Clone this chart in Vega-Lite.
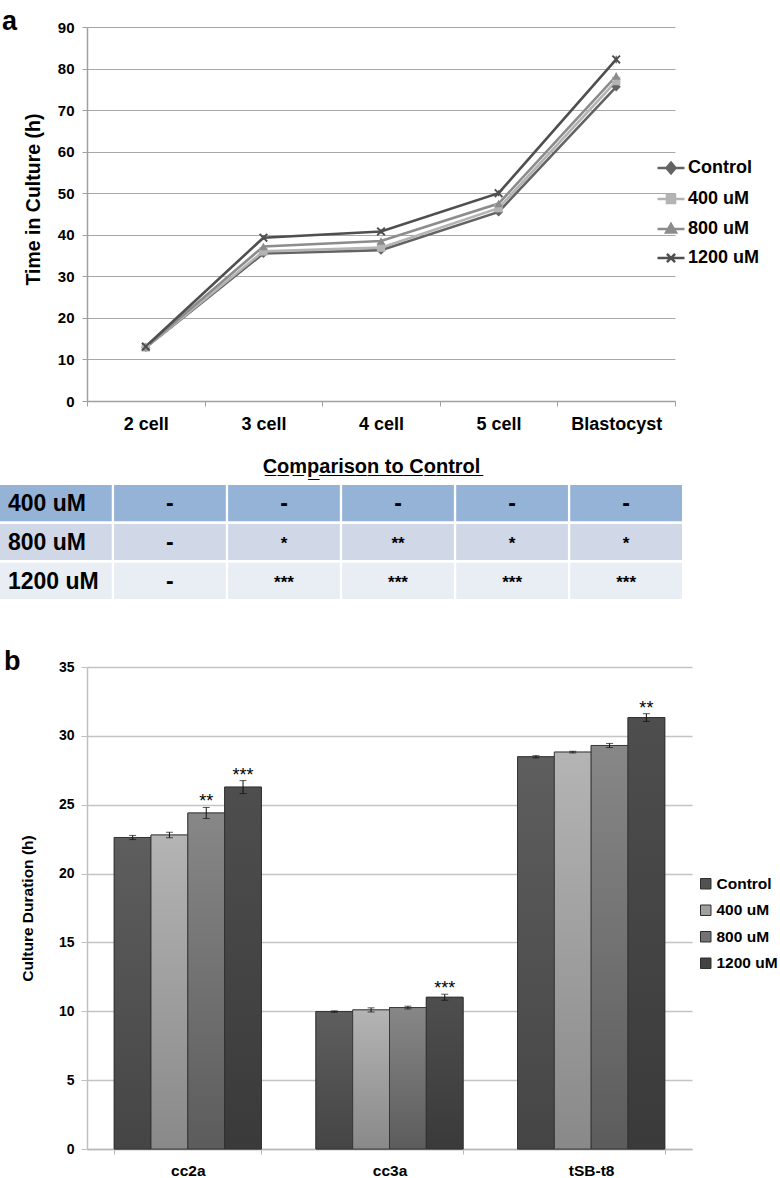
{
  "$schema": "https://vega.github.io/schema/vega-lite/v6.json",
  "background": "white",
  "padding": {"left": 0, "top": 8, "right": 0, "bottom": 0},
  "config": {
    "view": {"stroke": null},
    "font": "Liberation Sans",
    "axis": {
      "labelFont": "Liberation Sans",
      "titleFont": "Liberation Sans",
      "labelColor": "#000000",
      "titleColor": "#000000",
      "labelFontWeight": "bold",
      "titleFontWeight": "bold",
      "domainColor": "#a0a0a0",
      "tickColor": "#a0a0a0",
      "gridColor": "#a8a8a8"
    },
    "legend": {"labelFont": "Liberation Sans", "labelColor": "#000000"}
  },
  "resolve": {"scale": {"color": "independent", "fill": "independent", "shape": "independent"}, "legend": {"color": "independent", "fill": "independent", "shape": "independent"}},
  "datasets": {
    "timeline": [
      {"stage": "2 cell", "group": "Control", "time": 12.9, "lo": 12.6, "hi": 13.2},
      {"stage": "2 cell", "group": "400 uM", "time": 12.9, "lo": 12.6, "hi": 13.2},
      {"stage": "2 cell", "group": "800 uM", "time": 13.0, "lo": 12.7, "hi": 13.3},
      {"stage": "2 cell", "group": "1200 uM", "time": 13.1, "lo": 12.7, "hi": 13.5},
      {"stage": "3 cell", "group": "Control", "time": 35.5, "lo": 35.1, "hi": 35.9},
      {"stage": "3 cell", "group": "400 uM", "time": 36.0, "lo": 35.6, "hi": 36.4},
      {"stage": "3 cell", "group": "800 uM", "time": 37.2, "lo": 36.8, "hi": 37.6},
      {"stage": "3 cell", "group": "1200 uM", "time": 39.3, "lo": 38.8, "hi": 39.8},
      {"stage": "4 cell", "group": "Control", "time": 36.3, "lo": 35.8, "hi": 36.8},
      {"stage": "4 cell", "group": "400 uM", "time": 36.9, "lo": 36.4, "hi": 37.4},
      {"stage": "4 cell", "group": "800 uM", "time": 38.5, "lo": 38.0, "hi": 39.0},
      {"stage": "4 cell", "group": "1200 uM", "time": 40.8, "lo": 40.2, "hi": 41.4},
      {"stage": "5 cell", "group": "Control", "time": 45.5, "lo": 44.9, "hi": 46.1},
      {"stage": "5 cell", "group": "400 uM", "time": 46.4, "lo": 45.8, "hi": 47.0},
      {"stage": "5 cell", "group": "800 uM", "time": 47.5, "lo": 46.9, "hi": 48.1},
      {"stage": "5 cell", "group": "1200 uM", "time": 50.0, "lo": 49.3, "hi": 50.7},
      {"stage": "Blastocyst", "group": "Control", "time": 75.6, "lo": 74.9, "hi": 76.3},
      {"stage": "Blastocyst", "group": "400 uM", "time": 77.0, "lo": 76.3, "hi": 77.7},
      {"stage": "Blastocyst", "group": "800 uM", "time": 78.2, "lo": 77.4, "hi": 79.0},
      {"stage": "Blastocyst", "group": "1200 uM", "time": 82.2, "lo": 81.3, "hi": 83.1}
    ],
    "table": [
      {"row": "400 uM", "col": "label", "text": "400 uM"},
      {"row": "400 uM", "col": "2 cell", "text": "-"},
      {"row": "400 uM", "col": "3 cell", "text": "-"},
      {"row": "400 uM", "col": "4 cell", "text": "-"},
      {"row": "400 uM", "col": "5 cell", "text": "-"},
      {"row": "400 uM", "col": "Blastocyst", "text": "-"},
      {"row": "800 uM", "col": "label", "text": "800 uM"},
      {"row": "800 uM", "col": "2 cell", "text": "-"},
      {"row": "800 uM", "col": "3 cell", "text": "*"},
      {"row": "800 uM", "col": "4 cell", "text": "**"},
      {"row": "800 uM", "col": "5 cell", "text": "*"},
      {"row": "800 uM", "col": "Blastocyst", "text": "*"},
      {"row": "1200 uM", "col": "label", "text": "1200 uM"},
      {"row": "1200 uM", "col": "2 cell", "text": "-"},
      {"row": "1200 uM", "col": "3 cell", "text": "***"},
      {"row": "1200 uM", "col": "4 cell", "text": "***"},
      {"row": "1200 uM", "col": "5 cell", "text": "***"},
      {"row": "1200 uM", "col": "Blastocyst", "text": "***"}
    ],
    "durations": [
      {"phase": "cc2a", "group": "Control", "dur": 22.62, "lo": 22.47, "hi": 22.77, "sig": ""},
      {"phase": "cc2a", "group": "400 uM", "dur": 22.8, "lo": 22.6, "hi": 23.0, "sig": ""},
      {"phase": "cc2a", "group": "800 uM", "dur": 24.4, "lo": 24.0, "hi": 24.8, "sig": "**"},
      {"phase": "cc2a", "group": "1200 uM", "dur": 26.28, "lo": 25.81, "hi": 26.75, "sig": "***"},
      {"phase": "cc3a", "group": "Control", "dur": 9.98, "lo": 9.93, "hi": 10.03, "sig": ""},
      {"phase": "cc3a", "group": "400 uM", "dur": 10.1, "lo": 9.95, "hi": 10.25, "sig": ""},
      {"phase": "cc3a", "group": "800 uM", "dur": 10.27, "lo": 10.17, "hi": 10.37, "sig": ""},
      {"phase": "cc3a", "group": "1200 uM", "dur": 11.02, "lo": 10.8, "hi": 11.24, "sig": "***"},
      {"phase": "tSB-t8", "group": "Control", "dur": 28.48, "lo": 28.4, "hi": 28.56, "sig": ""},
      {"phase": "tSB-t8", "group": "400 uM", "dur": 28.82, "lo": 28.76, "hi": 28.88, "sig": ""},
      {"phase": "tSB-t8", "group": "800 uM", "dur": 29.3, "lo": 29.15, "hi": 29.45, "sig": ""},
      {"phase": "tSB-t8", "group": "1200 uM", "dur": 31.33, "lo": 31.05, "hi": 31.61, "sig": "**"}
    ]
  },
  "spacing": 49,
  "vconcat": [
    {
      "spacing": 24,
      "resolve": {"scale": {"color": "independent", "fill": "independent", "shape": "independent"}, "legend": {"color": "independent", "fill": "independent", "shape": "independent"}},
      "vconcat": [
        {
          "width": 588,
          "height": 374,
          "title": {"text": "a", "anchor": "start", "frame": "group", "dx": -85, "fontSize": 27, "fontWeight": "bold", "font": "Liberation Sans", "baseline": "alphabetic", "offset": -37},
          "data": {"name": "timeline"},
          "encoding": {
            "x": {
              "field": "stage", "type": "nominal", "bandPosition": 0.5,
              "sort": ["2 cell", "3 cell", "4 cell", "5 cell", "Blastocyst"],
              "scale": {"type": "band", "paddingInner": 0, "paddingOuter": 0},
              "axis": {"title": null, "labelAngle": 0, "labelFontSize": 18, "labelPadding": 9, "tickBand": "extent", "tickSize": 5, "grid": false, "domainWidth": 1.5}
            },
            "color": {
              "field": "group", "type": "nominal",
              "sort": ["Control", "400 uM", "800 uM", "1200 uM"],
              "scale": {"domain": ["Control", "400 uM", "800 uM", "1200 uM"], "range": ["#636363", "#b4b4b4", "#8c8c8c", "#4f4f4f"]},
              "legend": {
                "orient": "none", "legendX": 575, "legendY": 132, "title": null,
                "labelFontSize": 18, "labelFontWeight": "bold", "padding": 0,
                "symbolSize": 81, "symbolStrokeWidth": 2.5, "rowPadding": 10, "labelOffset": 8,
                "encode": {
                  "symbols": {
                    "update": {
                      "shape": {"signal": "datum.value === 'Control' ? 'M-3,0H3M0,-1.2L1,0L0,1.2L-1,0Z' : datum.value === '400 uM' ? 'M-3,0H3M-0.9,-0.9H0.9V0.9H-0.9Z' : datum.value === '800 uM' ? 'M-3,0H3M0,-1.1L1.1,0.8H-1.1Z' : 'M-3,0H3M-0.9,-0.9L0.9,0.9M-0.9,0.9L0.9,-0.9'"},
                      "fill": {"scale": "color", "field": "value"},
                      "stroke": {"scale": "color", "field": "value"},
                      "strokeWidth": {"value": 2.5},
                      "opacity": {"value": 1}
                    }
                  }
                }
              }
            }
          },
          "layer": [
            {
              "mark": {"type": "line", "strokeWidth": 2.6},
              "encoding": {
                "y": {
                  "field": "time", "type": "quantitative",
                  "scale": {"domain": [0, 90], "nice": false},
                  "axis": {"title": "Time in Culture (h)", "titleFontSize": 19.5, "titlePadding": 14, "titleY": 172, "values": [0, 10, 20, 30, 40, 50, 60, 70, 80, 90], "labelFontSize": 15, "labelPadding": 8, "tickSize": 5, "grid": true, "domainWidth": 1.5, "gridWidth": 1.2}
                }
              }
            },
            {
              "mark": {"type": "rule", "strokeWidth": 1.2},
              "encoding": {"y": {"field": "lo", "type": "quantitative"}, "y2": {"field": "hi"}}
            },
            {
              "transform": [{"filter": "datum.group === 'Control'"}],
              "mark": {"type": "point", "filled": true, "opacity": 1, "size": 85, "shape": "diamond"},
              "encoding": {"y": {"field": "time", "type": "quantitative"}}
            },
            {
              "transform": [{"filter": "datum.group === '400 uM'"}],
              "mark": {"type": "point", "filled": true, "opacity": 1, "size": 70, "shape": "square"},
              "encoding": {"y": {"field": "time", "type": "quantitative"}}
            },
            {
              "transform": [{"filter": "datum.group === '800 uM'"}],
              "mark": {"type": "point", "filled": true, "opacity": 1, "size": 75, "shape": "triangle-up"},
              "encoding": {"y": {"field": "time", "type": "quantitative"}}
            },
            {
              "transform": [{"filter": "datum.group === '1200 uM'"}],
              "mark": {"type": "point", "filled": true, "opacity": 1, "size": 80, "shape": "M-1,-0.7L-0.7,-1L0,-0.3L0.7,-1L1,-0.7L0.3,0L1,0.7L0.7,1L0,0.3L-0.7,1L-1,0.7L-0.3,0Z"},
              "encoding": {"y": {"field": "time", "type": "quantitative"}}
            }
          ]
        },
        {
          "width": 595,
          "height": 114,
          "title": {"text": "C̲o̲m̲p̲a̲r̲i̲s̲o̲n̲ ̲t̲o̲ ̲C̲o̲n̲t̲r̲o̲l̲", "anchor": "middle", "frame": "group", "dx": -13, "fontSize": 20, "fontWeight": "bold", "font": "Liberation Sans", "offset": 8},
          "data": {"name": "table"},
          "encoding": {
            "x": {
              "field": "col", "type": "nominal",
              "sort": ["label", "2 cell", "3 cell", "4 cell", "5 cell", "Blastocyst"],
              "scale": {"type": "band", "range": [-87, 595], "paddingInner": 0.02, "paddingOuter": 0},
              "axis": null
            },
            "y": {
              "field": "row", "type": "nominal",
              "sort": ["400 uM", "800 uM", "1200 uM"],
              "scale": {"paddingInner": 0.07, "paddingOuter": 0},
              "axis": null
            }
          },
          "layer": [
            {
              "mark": {"type": "rect"},
              "encoding": {
                "fill": {
                  "field": "row", "type": "nominal", "legend": null,
                  "scale": {"domain": ["400 uM", "800 uM", "1200 uM"], "range": ["#95b3d7", "#d0d8e8", "#e9edf4"]}
                }
              }
            },
            {
              "transform": [{"filter": "datum.col === 'label'"}],
              "mark": {"type": "text", "align": "left", "baseline": "middle", "dx": 8, "dy": 1, "fontSize": 23, "fontWeight": "bold", "font": "Liberation Sans", "color": "#000000"},
              "encoding": {"x": {"field": "col", "type": "nominal", "sort": ["label", "2 cell", "3 cell", "4 cell", "5 cell", "Blastocyst"], "bandPosition": 0}, "text": {"field": "text"}}
            },
            {
              "transform": [{"filter": "datum.text === '-'"}],
              "mark": {"type": "text", "align": "center", "baseline": "middle", "dy": 1, "fontSize": 23, "fontWeight": "bold", "font": "Liberation Sans", "color": "#000000"},
              "encoding": {"text": {"field": "text"}}
            },
            {
              "transform": [{"filter": "datum.col !== 'label' && datum.text !== '-'"}],
              "mark": {"type": "text", "align": "center", "baseline": "middle", "dy": 2, "fontSize": 17, "fontWeight": "bold", "font": "Liberation Sans", "color": "#000000"},
              "encoding": {"text": {"field": "text"}}
            }
          ]
        }
      ]
    },
    {
      "width": 605,
      "height": 482,
      "title": {"text": "b", "anchor": "start", "frame": "group", "dx": -83, "fontSize": 27, "fontWeight": "bold", "font": "Liberation Sans", "baseline": "alphabetic", "offset": -37},
      "data": {"name": "durations"},
      "encoding": {
        "x": {
          "field": "phase", "type": "nominal",
          "sort": ["cc2a", "cc3a", "tSB-t8"],
          "scale": {"paddingInner": 0.27, "paddingOuter": 0.135},
          "axis": {"title": null, "labelAngle": 0, "labelFontSize": 15.5, "labelPadding": 9, "tickBand": "extent", "tickSize": 5, "grid": false, "domainWidth": 1.5, "domainColor": "#b8b8b8", "tickColor": "#b8b8b8"}
        },
        "xOffset": {"field": "group", "type": "nominal", "sort": ["Control", "400 uM", "800 uM", "1200 uM"], "scale": {"paddingInner": 0, "paddingOuter": 0}}
      },
      "layer": [
        {
          "mark": {"type": "bar", "stroke": "#2e2e2e", "strokeWidth": 0.8},
          "encoding": {
            "y": {
              "field": "dur", "type": "quantitative",
              "scale": {"domain": [0, 35], "nice": false},
              "axis": {"title": "Culture Duration (h)", "titleFontSize": 15.5, "titlePadding": 23, "values": [0, 5, 10, 15, 20, 25, 30, 35], "labelFontSize": 14, "labelPadding": 7, "tickSize": 6, "grid": true, "gridColor": "#c4c4c4", "gridWidth": 1.5, "domainWidth": 1.5, "domainColor": "#c0c0c0", "tickColor": "#c0c0c0"}
            },
            "fill": {
              "field": "group", "type": "nominal",
              "sort": ["Control", "400 uM", "800 uM", "1200 uM"],
              "scale": {"domain": ["Control", "400 uM", "800 uM", "1200 uM"], "range": ["#525252", "#a0a0a0", "#737373", "#434343"]},
              "legend": {"orient": "none", "legendX": 611, "legendY": 209, "title": null, "labelFontSize": 15.5, "labelFontWeight": "bold", "padding": 0, "symbolType": "square", "symbolSize": 110, "symbolStrokeColor": "#2e2e2e", "symbolStrokeWidth": 1, "rowPadding": 9.5, "labelOffset": 3}
            }
          }
        },
        {
          "transform": [{"filter": "datum.group === 'Control'"}],
          "mark": {"type": "bar", "stroke": "#2e2e2e", "strokeWidth": 0.8, "fill": {"gradient": "linear", "x1": 0, "y1": 0, "x2": 0, "y2": 1, "stops": [{"offset": 0, "color": "#5e5e5e"}, {"offset": 1, "color": "#454545"}]}},
          "encoding": {"y": {"field": "dur", "type": "quantitative"}}
        },
        {
          "transform": [{"filter": "datum.group === '400 uM'"}],
          "mark": {"type": "bar", "stroke": "#2e2e2e", "strokeWidth": 0.8, "fill": {"gradient": "linear", "x1": 0, "y1": 0, "x2": 0, "y2": 1, "stops": [{"offset": 0, "color": "#b4b4b4"}, {"offset": 1, "color": "#898989"}]}},
          "encoding": {"y": {"field": "dur", "type": "quantitative"}}
        },
        {
          "transform": [{"filter": "datum.group === '800 uM'"}],
          "mark": {"type": "bar", "stroke": "#2e2e2e", "strokeWidth": 0.8, "fill": {"gradient": "linear", "x1": 0, "y1": 0, "x2": 0, "y2": 1, "stops": [{"offset": 0, "color": "#878787"}, {"offset": 1, "color": "#5c5c5c"}]}},
          "encoding": {"y": {"field": "dur", "type": "quantitative"}}
        },
        {
          "transform": [{"filter": "datum.group === '1200 uM'"}],
          "mark": {"type": "bar", "stroke": "#2e2e2e", "strokeWidth": 0.8, "fill": {"gradient": "linear", "x1": 0, "y1": 0, "x2": 0, "y2": 1, "stops": [{"offset": 0, "color": "#4e4e4e"}, {"offset": 1, "color": "#3a3a3a"}]}},
          "encoding": {"y": {"field": "dur", "type": "quantitative"}}
        },
        {
          "mark": {"type": "rule", "color": "#111111", "strokeWidth": 1},
          "encoding": {"y": {"field": "lo", "type": "quantitative"}, "y2": {"field": "hi"}}
        },
        {
          "mark": {"type": "tick", "orient": "horizontal", "color": "#111111", "size": 7, "thickness": 1},
          "encoding": {"y": {"field": "lo", "type": "quantitative"}}
        },
        {
          "mark": {"type": "tick", "orient": "horizontal", "color": "#111111", "size": 7, "thickness": 1},
          "encoding": {"y": {"field": "hi", "type": "quantitative"}}
        },
        {
          "mark": {"type": "text", "baseline": "alphabetic", "dy": 0, "fontSize": 18, "font": "Liberation Sans", "color": "#000000"},
          "encoding": {"y": {"field": "hi", "type": "quantitative"}, "text": {"field": "sig"}}
        }
      ]
    }
  ]
}
